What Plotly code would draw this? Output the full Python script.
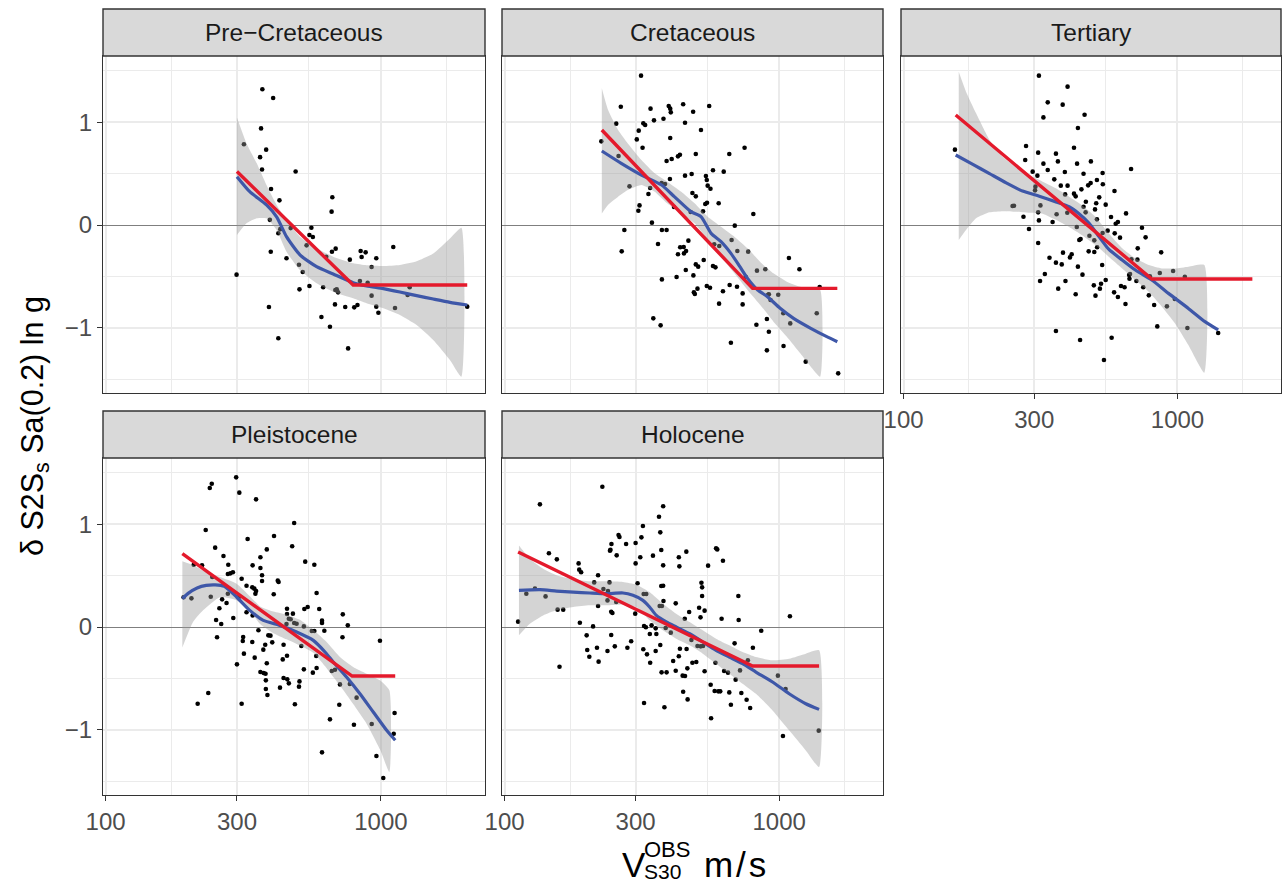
import plotly.graph_objects as go

# ---------------------------------------------------------------------------
# Site terms dS2S_s for Sa(0.2 s) against measured Vs30, by geological age
# ---------------------------------------------------------------------------
PANELS = ["Pre\u2212Cretaceous", "Cretaceous", "Tertiary", "Pleistocene", "Holocene"]

# --- Pre-Cretaceous ---------------------------------------------------------
pre_vs30 = [371, 406, 367, 318, 383, 364, 370, 490, 399, 428, 666, 662, 395, 431, 424,
            470, 559, 550, 566, 537, 398, 454, 664, 685, 633, 771, 844, 880, 851, 962,
            1109, 925, 504, 520, 299, 506, 550, 617, 683, 699, 691, 839, 895, 925, 1272,
            1250, 681, 742, 800, 822, 962, 979, 1125, 2058, 392, 608, 653, 424, 760]
pre_s2s = [1.32, 1.235, 0.94, 0.785, 0.733, 0.66, 0.54, 0.52, 0.35, 0.24, 0.27, 0.13, 0.05,
           -0.04, -0.08, -0.03, -0.026, -0.097, -0.117, -0.198, -0.26, -0.324, -0.26, -0.23,
           -0.308, -0.337, -0.253, -0.266, -0.311, -0.324, -0.214, -0.409, -0.386, -0.457,
           -0.483, -0.626, -0.593, -0.606, -0.632, -0.655, -0.626, -0.545, -0.561, -0.687,
           -0.606, -0.681, -0.772, -0.798, -0.801, -0.778, -0.794, -0.853, -0.807, -0.794,
           -0.798, -0.895, -0.989, -1.102, -1.2]
pre_fit_vs30 = [300, 334, 384, 418, 454, 508, 584, 671, 793, 887, 1020, 1172, 1348, 1549, 1781, 2058]
pre_fit = [0.47, 0.324, 0.195, 0.08, -0.113, -0.29, -0.405, -0.477, -0.561, -0.593, -0.619,
           -0.652, -0.687, -0.72, -0.752, -0.778]
pre_ci_vs30 = [300, 325, 354, 384, 418, 454, 508, 584, 671, 793, 887, 1020, 1172, 1348, 1549, 1781, 1960]
pre_ci_hi = [1.047, 0.794, 0.6, 0.389, 0.195, 0.049, -0.113, -0.227, -0.308, -0.373, -0.392,
             -0.399, -0.389, -0.353, -0.276, -0.13, -0.026]
pre_ci_lo = [-0.097, 0.016, 0.065, 0.065, -0.049, -0.26, -0.438, -0.567, -0.649, -0.713, -0.762,
             -0.81, -0.875, -0.973, -1.119, -1.313, -1.475]
pre_model_vs30 = [300, 793, 2058]
pre_model = [0.52, -0.584, -0.584]

# --- Cretaceous -------------------------------------------------------------
cre_vs30 = [314, 265, 340, 396, 401, 403, 447, 486, 556, 350, 379, 255, 320, 325, 454, 519,
            308, 303, 401, 318, 225, 748, 658, 497, 435, 428, 406, 389, 260, 574, 628, 480,
            454, 541, 545, 400, 373, 384, 285, 339, 334, 549, 562, 483, 497, 546, 538, 602,
            310, 307, 414, 476, 528, 805, 344, 273, 374, 389, 689, 467, 362, 671, 436, 449,
            580, 605, 267, 428, 450, 458, 704, 771, 531, 497, 507, 574, 586, 457, 1085, 1185,
            830, 890, 487, 423, 374, 545, 560, 660, 702, 504, 489, 493, 624, 736, 755, 917,
            992, 1404, 604, 736, 930, 1035, 1370, 1097, 902, 826, 348, 370, 917, 667, 902,
            1037, 1249, 1640, 911]
cre_s2s = [1.453, 1.151, 1.132, 1.158, 1.132, 1.096, 1.174, 1.102, 1.158, 1.018, 1.034, 0.986,
           0.989, 0.973, 0.995, 0.924, 0.918, 0.833, 0.846, 0.752, 0.814, 0.752, 0.691, 0.691,
           0.684, 0.668, 0.642, 0.623, 0.671, 0.532, 0.519, 0.496, 0.48, 0.477, 0.438, 0.447,
           0.409, 0.399, 0.376, 0.36, 0.302, 0.383, 0.353, 0.311, 0.279, 0.217, 0.204, 0.211,
           0.191, 0.139, 0.175, 0.126, 0.133, 0.107, 0.023, -0.049, -0.049, -0.049, -0.006,
           -0.152, -0.185, -0.146, -0.217, -0.214, -0.188, -0.204, -0.256, -0.285, -0.276,
           -0.253, -0.253, -0.259, -0.34, -0.383, -0.405, -0.399, -0.412, -0.438, -0.321,
           -0.431, -0.444, -0.431, -0.49, -0.506, -0.529, -0.593, -0.61, -0.584, -0.6, -0.619,
           -0.655, -0.671, -0.645, -0.665, -0.503, -0.674, -0.678, -0.603, -0.765, -0.772,
           -0.73, -0.859, -0.859, -0.957, -0.914, -0.97, -0.908, -0.976, -1.038, -1.145,
           -1.219, -1.177, -1.329, -1.443, -0.678]
cre_fit_vs30 = [226, 266, 315, 373, 415, 477, 519, 565, 614, 667, 726, 767, 835, 906, 1008,
                1128, 1303, 1490, 1628]
cre_fit = [0.72, 0.6, 0.486, 0.389, 0.276, 0.13, 0.081, -0.081, -0.162, -0.276, -0.422,
           -0.519, -0.632, -0.697, -0.81, -0.908, -1.005, -1.086, -1.135]
cre_ci_vs30 = [226, 238, 259, 281, 315, 352, 391, 440, 492, 549, 614, 687, 767, 863, 953,
               1066, 1193, 1303, 1410]
cre_ci_hi = [1.33, 1.12, 0.924, 0.794, 0.632, 0.503, 0.422, 0.324, 0.211, 0.081, -0.016,
             -0.113, -0.227, -0.373, -0.47, -0.551, -0.6, -0.62, -0.632]
cre_ci_lo = [0.113, 0.195, 0.276, 0.34, 0.389, 0.324, 0.211, 0.113, 0.016, -0.146, -0.308,
             -0.47, -0.632, -0.794, -0.94, -1.086, -1.248, -1.378, -1.475]
cre_model_vs30 = [226, 800, 1628]
cre_model = [0.924, -0.616, -0.616]

# --- Tertiary ---------------------------------------------------------------
ter_vs30 = [312, 397, 336, 381, 324, 458, 433, 154, 280, 419, 310, 360, 278, 324, 366, 430,
            483, 677, 296, 308, 336, 388, 454, 533, 355, 375, 397, 446, 472, 482, 508, 534,
            303, 302, 419, 389, 425, 589, 463, 505, 518, 547, 250, 253, 316, 454, 500, 310,
            362, 396, 462, 649, 274, 312, 350, 508, 572, 595, 606, 287, 429, 556, 742, 443,
            438, 477, 497, 533, 590, 617, 765, 310, 509, 716, 872, 474, 497, 382, 411, 405,
            341, 360, 378, 433, 531, 679, 714, 328, 315, 390, 450, 547, 668, 708, 671, 793,
            862, 964, 1064, 495, 526, 502, 521, 367, 425, 587, 606, 622, 641, 750, 786, 646,
            822, 915, 978, 360, 441, 575, 844, 1087, 1408, 539, 666]
ter_s2s = [1.453, 1.346, 1.193, 1.171, 1.047, 1.073, 0.944, 0.733, 0.768, 0.752, 0.704, 0.694,
           0.632, 0.597, 0.619, 0.597, 0.619, 0.545, 0.519, 0.48, 0.535, 0.516, 0.499, 0.506,
           0.444, 0.383, 0.383, 0.347, 0.386, 0.409, 0.438, 0.396, 0.373, 0.337, 0.305, 0.298,
           0.279, 0.331, 0.227, 0.211, 0.269, 0.198, 0.185, 0.188, 0.191, 0.178, 0.152, 0.123,
           0.104, 0.12, 0.123, 0.113, 0.081, 0.045, 0.029, 0.055, 0.078, 0.013, 0.029, -0.039,
           -0.019, -0.055, -0.026, -0.136, -0.146, -0.104, -0.149, -0.078, -0.081, -0.123,
           -0.12, -0.175, -0.217, -0.227, -0.266, -0.256, -0.263, -0.269, -0.285, -0.315,
           -0.318, -0.366, -0.383, -0.405, -0.389, -0.334, -0.337, -0.477, -0.545, -0.545,
           -0.483, -0.535, -0.522, -0.545, -0.477, -0.499, -0.467, -0.447, -0.503, -0.587,
           -0.571, -0.687, -0.619, -0.619, -0.674, -0.655, -0.7, -0.593, -0.606, -0.606,
           -0.684, -0.768, -0.778, -0.791, -0.72, -1.031, -1.119, -1.096, -0.986, -1.002,
           -1.051, -1.313, -0.486]
ter_fit_vs30 = [155, 179, 206, 237, 272, 313, 360, 402, 437, 475, 516, 561, 628, 702, 806,
                927, 1096, 1260, 1408]
ter_fit = [0.681, 0.59, 0.5, 0.41, 0.33, 0.28, 0.225, 0.178, 0.11, 0.02, -0.11, -0.235,
           -0.34, -0.438, -0.535, -0.665, -0.811, -0.94, -1.021]
ter_ci_vs30 = [159, 169, 184, 206, 230, 257, 288, 322, 360, 402, 447, 502, 561, 628, 702,
               785, 877, 980, 1096, 1253]
ter_ci_hi = [1.49, 1.297, 1.086, 0.827, 0.665, 0.567, 0.486, 0.422, 0.357, 0.276, 0.195,
             0.081, -0.081, -0.227, -0.324, -0.389, -0.422, -0.422, -0.405, -0.389]
ter_ci_lo = [-0.146, -0.049, 0.065, 0.123, 0.135, 0.13, 0.12, 0.11, 0.05, -0.02, -0.097,
             -0.195, -0.308, -0.422, -0.535, -0.649, -0.794, -0.957, -1.167, -1.436]
ter_model_vs30 = [155, 806, 1877]
ter_model = [1.07, -0.525, -0.525]

# --- Pleistocene ------------------------------------------------------------
ple_vs30 = [298, 306, 243, 239, 352, 484, 231, 328, 409, 476, 385, 250, 268, 365, 531, 573,
            342, 279, 209, 224, 365, 290, 284, 278, 370, 370, 422, 425, 312, 244, 325, 341,
            347, 352, 350, 408, 584, 205, 241, 192, 305, 265, 275, 278, 259, 325, 342, 291,
            252, 263, 456, 479, 456, 527, 542, 597, 463, 470, 484, 454, 494, 611, 611, 727,
            758, 525, 359, 561, 573, 623, 254, 316, 315, 341, 390, 397, 380, 403, 443, 514,
            725, 992, 374, 318, 456, 440, 348, 582, 300, 385, 365, 375, 381, 525, 584, 566,
            663, 681, 443, 457, 463, 506, 504, 382, 382, 430, 387, 710, 771, 816, 236, 216,
            312, 487, 706, 1121, 653, 798, 926, 1113, 611, 963, 1020]
ple_s2s = [1.456, 1.307, 1.394, 1.352, 1.242, 1.012, 0.944, 0.856, 0.885, 0.785, 0.755, 0.772,
           0.691, 0.678, 0.636, 0.606, 0.6, 0.606, 0.606, 0.6, 0.574, 0.532, 0.522, 0.516,
           0.503, 0.447, 0.451, 0.438, 0.47, 0.486, 0.402, 0.386, 0.373, 0.35, 0.324, 0.318,
           0.331, 0.279, 0.295, 0.289, 0.292, 0.269, 0.233, 0.324, 0.182, 0.143, 0.113, 0.088,
           0.068, 0.029, 0.178, 0.13, 0.126, 0.175, 0.195, 0.175, 0.081, 0.075, 0.039, 0.029,
           0.032, 0.062, 0.039, 0.123, 0.016, 0.006, -0.032, -0.039, -0.039, -0.036, -0.1,
           -0.097, -0.136, -0.146, -0.081, -0.084, -0.172, -0.149, -0.172, -0.185, -0.1,
           -0.133, -0.22, -0.259, -0.279, -0.315, -0.298, -0.282, -0.363, -0.353, -0.438,
           -0.447, -0.454, -0.412, -0.399, -0.444, -0.428, -0.415, -0.496, -0.509, -0.548,
           -0.529, -0.58, -0.519, -0.603, -0.59, -0.661, -0.558, -0.554, -0.687, -0.642,
           -0.746, -0.746, -0.752, -0.756, -0.837, -0.898, -0.95, -0.944, -1.038, -1.219,
           -1.255, -1.469]
ple_fit_vs30 = [190, 200, 215, 232, 250, 270, 299, 334, 374, 430, 494, 568, 630, 671, 750,
                839, 938, 1049, 1127]
ple_fit = [0.276, 0.33, 0.38, 0.405, 0.41, 0.395, 0.292, 0.162, 0.065, 0.016, -0.049, -0.13,
           -0.25, -0.34, -0.486, -0.649, -0.827, -1.005, -1.102]
ple_ci_vs30 = [190, 208, 226, 260, 299, 334, 364, 407, 454, 508, 568, 635, 710, 793, 887,
               992, 1073]
ple_ci_hi = [0.639, 0.6, 0.55, 0.486, 0.422, 0.3, 0.2, 0.15, 0.12, 0.07, -0.03, -0.146,
             -0.292, -0.389, -0.454, -0.519, -0.616]
ple_ci_lo = [-0.2, 0.05, 0.162, 0.29, 0.26, 0.162, 0.03, -0.06, -0.12, -0.18, -0.25, -0.4,
             -0.57, -0.75, -0.94, -1.19, -1.41]
ple_model_vs30 = [190, 786, 1127]
ple_model = [0.713, -0.477, -0.477]

# --- Holocene ---------------------------------------------------------------
hol_vs30 = [227, 134.5, 378, 365, 319, 369, 315, 260, 262, 277, 300, 245, 243, 242, 372, 589,
            595, 459, 256, 312, 347, 431, 145, 155, 624, 300, 186, 378, 433, 551, 187, 190,
            219, 305, 212, 241, 372, 378, 521, 524, 524, 710, 129, 120, 141, 229, 238, 237,
            321, 328, 379, 420, 255, 219, 367, 374, 511, 535, 156, 163.5, 244.5, 247, 470,
            299, 517, 617, 712, 1094, 453, 112, 188, 210, 322, 327, 343, 386, 355, 403, 860,
            338, 357, 199, 244.5, 289, 280, 252, 369, 479, 504, 518, 528, 688, 200, 217, 237,
            320, 330, 355, 435, 460, 203.5, 220, 339, 411, 431, 463, 483, 499, 586, 769, 802,
            158.5, 373, 389, 420, 445, 454, 535, 630, 651, 694, 720, 989, 563, 582, 600, 610,
            658, 728, 1055, 447, 464, 667, 761, 784, 322, 382, 565, 1032, 1393]
hol_s2s = [1.365, 1.193, 1.174, 1.073, 0.982, 0.921, 0.872, 0.895, 0.875, 0.807, 0.817,
           0.807, 0.752, 0.743, 0.749, 0.765, 0.755, 0.733, 0.697, 0.678, 0.694, 0.678, 0.717,
           0.658, 0.645, 0.619, 0.619, 0.6, 0.59, 0.597, 0.558, 0.532, 0.503, 0.425, 0.434,
           0.434, 0.399, 0.402, 0.431, 0.386, 0.302, 0.302, 0.373, 0.324, 0.298, 0.37, 0.35,
           0.259, 0.321, 0.321, 0.253, 0.23, 0.243, 0.204, 0.204, 0.204, 0.188, 0.159, 0.169,
           0.169, 0.149, 0.136, 0.146, 0.13, 0.094, 0.081, 0.068, 0.104, 0.081, 0.052, 0.042,
           0.006, 0.01, -0.003, 0.016, -0.01, -0.013, -0.055, -0.036, -0.068, -0.068, -0.081,
           -0.078, -0.139, -0.201, -0.188, -0.175, -0.126, -0.185, -0.188, -0.185, -0.159,
           -0.224, -0.201, -0.233, -0.217, -0.266, -0.233, -0.211, -0.214, -0.289, -0.337,
           -0.347, -0.331, -0.285, -0.402, -0.347, -0.34, -0.347, -0.324, -0.201, -0.386,
           -0.441, -0.441, -0.425, -0.473, -0.477, -0.431, -0.428, -0.444, -0.512, -0.422,
           -0.473, -0.561, -0.623, -0.626, -0.626, -0.636, -0.642, -0.603, -0.629, -0.704,
           -0.756, -0.707, -0.788, -0.739, -0.781, -0.888, -1.06, -1.008]
hol_fit_vs30 = [112.8, 134.5, 154.6, 177.7, 204.2, 234.8, 269.9, 293.4, 319, 337.3, 357, 388,
                421.5, 472, 526.8, 588.8, 658, 735.7, 822.7, 945.6, 1087, 1249.6, 1397]
hol_fit = [0.357, 0.363, 0.35, 0.34, 0.331, 0.324, 0.331, 0.308, 0.259, 0.195, 0.113, 0.049,
           0.0, -0.065, -0.146, -0.227, -0.292, -0.357, -0.438, -0.535, -0.649, -0.746, -0.801]
hol_ci_vs30 = [112.8, 123.6, 138.2, 154.6, 177.7, 204.2, 234.8, 269.9, 301.7, 337.3, 377,
               421.5, 472, 526.8, 588.8, 658, 735.7, 822.7, 945.6, 1087, 1249.6, 1397]
hol_ci_hi = [0.794, 0.665, 0.567, 0.503, 0.464, 0.444, 0.444, 0.438, 0.412, 0.34, 0.227, 0.13,
             0.049, -0.032, -0.113, -0.178, -0.243, -0.292, -0.324, -0.308, -0.259, -0.227]
hol_ci_lo = [-0.081, 0.032, 0.113, 0.162, 0.195, 0.211, 0.211, 0.22, 0.195, 0.065, -0.032,
             -0.113, -0.178, -0.259, -0.357, -0.454, -0.551, -0.649, -0.811, -1.005, -1.2,
             -1.362]
hol_model_vs30 = [112, 800, 1397]
hol_model = [0.73, -0.379, -0.379]

# Axis breaks
X_TICKS = [100, 300, 1000, 3000]
X_TICK_LABELS = ["100", "300", "1000", "3000"]
X_MINOR = [173.2, 547.7, 1732.1]
Y_TICKS = [-1, 0, 1]
Y_TICK_LABELS = ["\u22121", "0", "1"]
Y_MINOR = [-1.5, -0.5, 0.5, 1.5]

SERIES = [
    (pre_vs30, pre_s2s, pre_fit_vs30, pre_fit, pre_ci_vs30, pre_ci_lo, pre_ci_hi, pre_model_vs30, pre_model),
    (cre_vs30, cre_s2s, cre_fit_vs30, cre_fit, cre_ci_vs30, cre_ci_lo, cre_ci_hi, cre_model_vs30, cre_model),
    (ter_vs30, ter_s2s, ter_fit_vs30, ter_fit, ter_ci_vs30, ter_ci_lo, ter_ci_hi, ter_model_vs30, ter_model),
    (ple_vs30, ple_s2s, ple_fit_vs30, ple_fit, ple_ci_vs30, ple_ci_lo, ple_ci_hi, ple_model_vs30, ple_model),
    (hol_vs30, hol_s2s, hol_fit_vs30, hol_fit, hol_ci_vs30, hol_ci_lo, hol_ci_hi, hol_model_vs30, hol_model),
]

# ---------------------------------------------------------------------------
# Page geometry (pixels) for the facet grid
# ---------------------------------------------------------------------------
W, H = 1283, 884
# (left, right, top, bottom) of each panel's plotting area
BOXES = [(103, 485, 56, 393), (502, 883, 56, 393), (901, 1281, 56, 393),
         (103, 485, 458, 795), (502, 883, 458, 795)]
STRIP_H = 47
SHOW_X = [False, False, True, True, True]
SHOW_Y = [True, False, False, True, False]

X_RANGE = [1.9906, 3.378]
Y_RANGE = [-1.634, 1.644]

FONT = "Liberation Sans, Arial, sans-serif"
BORDER = "#333333"
GRID = "#EBEBEB"
BLUE = "#3E57A8"
RED = "#E41A2C"
BAND = "rgba(153,153,153,0.42)"

fig = go.Figure()
shapes, annotations = [], []

for i, (name, box, data) in enumerate(zip(PANELS, BOXES, SERIES)):
    vs, s2s, fv, fy, cv, clo, chi, mv, my = data
    k = "" if i == 0 else str(i + 1)
    xa, ya = "x" + k, "y" + k
    left, right, top, bottom = box

    # observations
    fig.add_trace(go.Scatter(x=vs, y=s2s, mode="markers", xaxis=xa, yaxis=ya,
                             marker=dict(color="black", size=4.6, line=dict(width=0)),
                             showlegend=False, hoverinfo="skip"))
    # loess confidence band
    fig.add_trace(go.Scatter(x=list(cv) + list(cv)[::-1], y=list(chi) + list(clo)[::-1],
                             mode="lines", fill="toself", fillcolor=BAND,
                             line=dict(width=0, shape="spline", smoothing=0.5),
                             xaxis=xa, yaxis=ya, showlegend=False, hoverinfo="skip"))
    # loess fit
    fig.add_trace(go.Scatter(x=fv, y=fy, mode="lines", xaxis=xa, yaxis=ya,
                             line=dict(color=BLUE, width=3.2, shape="spline", smoothing=0.6),
                             showlegend=False, hoverinfo="skip"))
    # piecewise-linear model
    fig.add_trace(go.Scatter(x=mv, y=my, mode="lines", xaxis=xa, yaxis=ya,
                             line=dict(color=RED, width=3.4),
                             showlegend=False, hoverinfo="skip"))

    common_axis = dict(showline=True, mirror=True, linecolor=BORDER, linewidth=1.4,
                       gridcolor=GRID, gridwidth=1.5, tickcolor=BORDER, tickwidth=1.4,
                       ticklen=5, automargin=False,
                       tickfont=dict(family=FONT, size=24, color="#4D4D4D"))
    fig.layout["xaxis" + k] = dict(
        common_axis, type="log", range=X_RANGE, anchor=ya,
        domain=[left / W, right / W],
        tickmode="array", tickvals=X_TICKS, ticktext=X_TICK_LABELS,
        ticks="outside" if SHOW_X[i] else "", showticklabels=SHOW_X[i],
        minor=dict(tickvals=X_MINOR, showgrid=True, gridcolor=GRID, gridwidth=0.8, ticklen=0),
        zeroline=False)
    fig.layout["yaxis" + k] = dict(
        common_axis, range=Y_RANGE, anchor=xa,
        domain=[1 - bottom / H, 1 - top / H],
        tickmode="array", tickvals=Y_TICKS, ticktext=Y_TICK_LABELS,
        ticks="outside" if SHOW_Y[i] else "", showticklabels=SHOW_Y[i],
        minor=dict(tickvals=Y_MINOR, showgrid=True, gridcolor=GRID, gridwidth=0.8, ticklen=0),
        zeroline=True, zerolinecolor="#7F7F7F", zerolinewidth=1.3)

    # facet strip
    shapes.append(dict(type="rect", xref="paper", yref="paper",
                       x0=left / W, x1=right / W,
                       y0=1 - top / H, y1=1 - (top - STRIP_H) / H,
                       fillcolor="#D9D9D9", line=dict(color=BORDER, width=1.4), layer="above"))
    annotations.append(dict(text=name, xref="paper", yref="paper",
                            x=(left + right) / 2 / W, y=1 - (top - STRIP_H / 2) / H,
                            xanchor="center", yanchor="middle", showarrow=False,
                            font=dict(family=FONT, size=24.5, color="#1A1A1A")))

# axis titles
annotations.append(dict(text="\u03b4 S2S<sub>s</sub> Sa(0.2) ln g", textangle=-90,
                        xref="paper", yref="paper", x=34 / W, y=1 - 426 / H,
                        xanchor="center", yanchor="middle", showarrow=False,
                        font=dict(family=FONT, size=30.5, color="black")))
annotations.append(dict(text="V", xref="paper", yref="paper", x=620 / W, y=1 - 864 / H,
                        xanchor="left", yanchor="middle", showarrow=False,
                        font=dict(family=FONT, size=35, color="black")))
annotations.append(dict(text="OBS", xref="paper", yref="paper", x=642 / W, y=1 - 849 / H,
                        xanchor="left", yanchor="middle", showarrow=False,
                        font=dict(family=FONT, size=22, color="black")))
annotations.append(dict(text="S30", xref="paper", yref="paper", x=642 / W, y=1 - 871 / H,
                        xanchor="left", yanchor="middle", showarrow=False,
                        font=dict(family=FONT, size=21, color="black")))
annotations.append(dict(text="m\u200a/\u200as", xref="paper", yref="paper", x=702 / W, y=1 - 864 / H,
                        xanchor="left", yanchor="middle", showarrow=False,
                        font=dict(family=FONT, size=35, color="black")))

fig.update_layout(width=W, height=H, margin=dict(l=0, r=0, t=0, b=0),
                  paper_bgcolor="white", plot_bgcolor="white",
                  shapes=shapes, annotations=annotations, showlegend=False)

fig.write_html("out.html")
